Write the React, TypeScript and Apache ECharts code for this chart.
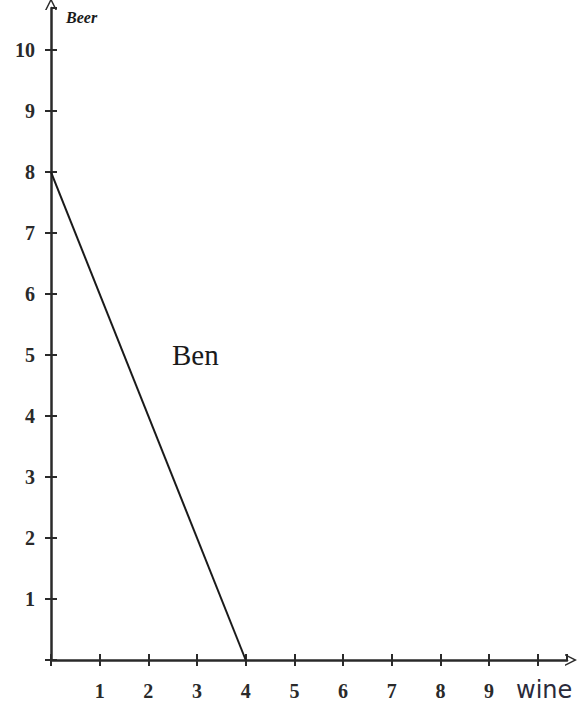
import React, { useEffect, useRef } from "react";
import * as echarts from "echarts";

const wineValues = [0, 4];
const beerValues = [8, 0];
const xTickLabels = ["", "1", "2", "3", "4", "5", "6", "7", "8", "9", ""];
const yTickLabels = ["", "1", "2", "3", "4", "5", "6", "7", "8", "9", "10"];
const seriesName = "Ben";
const xAxisName = "wine";
const yAxisName = "Beer";

const AX = "#2a2a2a";
const chevron = "path://M0,12 L6,0 L12,12 L10.4,12 L6,3.2 L1.6,12 Z";

export default function App() {
  const ref = useRef<HTMLDivElement>(null);
  useEffect(() => {
    document.body.style.margin = "0";
    const chart = echarts.init(ref.current!, null, { renderer: "svg" });
    const labelFont = {
      fontFamily: "Liberation Serif",
      fontSize: 20,
      fontWeight: "bold" as const,
      color: "#2a2a2a",
    };
    const baseX = {
      type: "value" as const,
      min: 0,
      max: 10.6,
      interval: 1,
      splitLine: { show: false },
    };
    const baseY = {
      type: "value" as const,
      min: 0,
      max: 10.69,
      interval: 1,
      splitLine: { show: false },
    };
    chart.setOption({
      animation: false,
      grid: { left: 51, right: 16, top: 8, bottom: 57 },
      xAxis: [
        {
          ...baseX,
          axisLine: {
            show: true,
            lineStyle: { color: AX, width: 2.5 },
            symbol: ["none", chevron],
            symbolSize: [12, 12],
            symbolOffset: [0, 4],
          },
          axisTick: { show: true, inside: false, length: 6, lineStyle: { color: AX, width: 2 } },
          axisLabel: {
            ...labelFont,
            margin: 21,
            showMaxLabel: false,
            formatter: (v: number) => xTickLabels[Math.round(v)] ?? "",
          },
        },
        {
          ...baseX,
          position: "bottom",
          axisLine: { show: false },
          axisTick: { show: true, inside: true, length: 6, lineStyle: { color: AX, width: 2 } },
          axisLabel: { show: false },
        },
      ],
      yAxis: [
        {
          ...baseY,
          axisLine: {
            show: true,
            lineStyle: { color: AX, width: 2.5 },
            symbol: ["none", chevron],
            symbolSize: [12, 12],
            symbolOffset: [0, 4],
          },
          axisTick: { show: true, inside: false, length: 6, lineStyle: { color: AX, width: 2 } },
          axisLabel: {
            ...labelFont,
            margin: 16,
            showMaxLabel: false,
            formatter: (v: number) => yTickLabels[Math.round(v)] ?? "",
          },
        },
        {
          ...baseY,
          position: "left",
          axisLine: { show: false },
          axisTick: { show: true, inside: true, length: 6, lineStyle: { color: AX, width: 2 } },
          axisLabel: { show: false },
        },
      ],
      series: [
        {
          name: seriesName,
          type: "line",
          data: wineValues.map((w, i) => [w, beerValues[i]]),
          symbol: "none",
          lineStyle: { color: "#1a1a1a", width: 2 },
        },
      ],
      graphic: [
        {
          type: "text",
          left: 172,
          top: 340,
          style: {
            text: seriesName,
            font: "29px 'Liberation Serif'",
            fill: "#1a1a1a",
          },
        },
        {
          type: "text",
          left: 516,
          top: 678,
          style: {
            text: xAxisName,
            font: "24px 'DejaVu Sans'",
            fill: "#2a2a3a",
          },
        },
        {
          type: "text",
          left: 66,
          top: 9,
          style: {
            text: yAxisName,
            font: "italic bold 16px 'Liberation Serif'",
            fill: "#1a1a1a",
          },
        },
      ],
    });
    return () => chart.dispose();
  }, []);
  return <div ref={ref} style={{ width: 583, height: 717 }} />;
}
